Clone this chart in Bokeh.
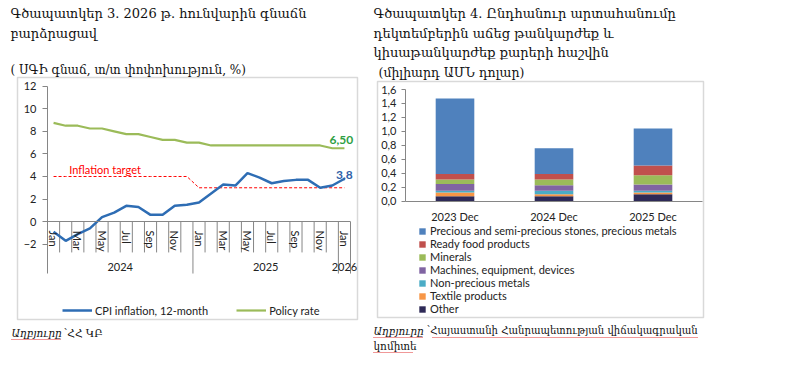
from bokeh.plotting import figure
from bokeh.models import (Range1d, FixedTicker, Label, Legend, LegendItem, LinearAxis,
                          ColumnDataSource, CustomJSTickFormatter)
from bokeh.embed import file_html
from bokeh.resources import INLINE
from bokeh.core.properties import value

# ---------------- data: chart 3 ----------------
month_labels = ["Jan", "Feb", "Mar", "Apr", "May", "Jun", "Jul", "Aug", "Sep", "Oct", "Nov", "Dec",
                "Jan", "Feb", "Mar", "Apr", "May", "Jun", "Jul", "Aug", "Sep", "Oct", "Nov", "Dec",
                "Jan"]
year_labels = ["2024", "2025", "2026"]
cpi = [-0.9, -1.7, -1.1, -0.6, 0.4, 0.8, 1.4, 1.3, 0.6, 0.6, 1.4, 1.5,
       1.7, 2.5, 3.3, 3.2, 4.3, 3.9, 3.4, 3.6, 3.7, 3.7, 3.0, 3.2, 3.8]
policy = [8.75, 8.5, 8.5, 8.25, 8.25, 8.0, 7.75, 7.75, 7.5, 7.25, 7.25, 7.0,
          7.0, 6.75, 6.75, 6.75, 6.75, 6.75, 6.75, 6.75, 6.75, 6.75, 6.75, 6.5, 6.5]
target = [4, 4, 4, 4, 4, 4, 4, 4, 4, 4, 4, 4,
          3, 3, 3, 3, 3, 3, 3, 3, 3, 3, 3, 3, 3]
y_ticks_left = [-2, 0, 2, 4, 6, 8, 10, 12]

# ---------------- data: chart 4 ----------------
periods = ["2023 Dec", "2024 Dec", "2025 Dec"]
other = [0.07, 0.07, 0.10]
textile = [0.055, 0.03, 0.025]
nonprecious = [0.025, 0.05, 0.025]
machines = [0.095, 0.08, 0.09]
minerals = [0.065, 0.08, 0.13]
readyfood = [0.08, 0.08, 0.14]
precious = [1.08, 0.37, 0.53]
y_ticks_right = [0.0, 0.2, 0.4, 0.6, 0.8, 1.0, 1.2, 1.4, 1.6]

series_keys = ["other", "textile", "nonprecious", "machines", "minerals", "readyfood", "precious"]
series_names = ["Other", "Textile products", "Non-precious metals",
                "Machines, equipment, devices", "Minerals", "Ready food products",
                "Precious and semi-precious stones, precious metals"]
series_colors = ["#2E2A57", "#F79646", "#4BACC6", "#8064A2", "#9BBB59", "#C0504D", "#4F81BD"]

TXT = "Lato"
ARM = "DejaVu Serif"
GRAY = "#868686"
DARK = "#222222"

# ---------------- page figure (frame = whole canvas, page pixel coords) ----------------
W, H = 784, 372
OX, OY = 0, 0  # canvas origin on the page


def span(v0, p0, v1, p1, c0, c1):
    """range values at canvas pixels c0, c1 given value v0 at page px p0 and v1 at p1"""
    s = (v1 - v0) / (p1 - p0)
    return v0 + (c0 + OX - p0) * s, v0 + (c1 + OX - p0) * s


p = figure(width=W, height=H, x_range=Range1d(OX, OX + W), y_range=Range1d(OY + H, OY),
           output_backend="svg", toolbar_location=None, x_axis_location=None,
           y_axis_location=None, min_border=0)
p.outline_line_color = None
p.grid.visible = False
p.background_fill_color = "white"

# chart ranges, placed by pixel anchors
lx0, lx1 = span(-0.5, 47, 24.5, 350, 0, W)
ly0, ly1 = span(12, 85.7, -2, 243.7, H, 0)
rx0, rx1 = span(0, 405, 3, 702, 0, W)
ry0, ry1 = span(1.6, 89, 0, 200.7, H, 0)
p.extra_x_ranges = {"lx": Range1d(lx0, lx1), "rx": Range1d(rx0, rx1)}
p.extra_y_ranges = {"ly": Range1d(ly0, ly1), "ry": Range1d(ry0, ry1)}
L = dict(x_range_name="lx", y_range_name="ly")
R = dict(x_range_name="rx", y_range_name="ry")

# ---------------- boxes & texts ----------------
p.quad(left=[17, 377], right=[357, 703], top=[77, 81], bottom=[319, 317],
       fill_alpha=0, line_color="#D9D9D9", line_width=1.5)


def t(x, y, s, size="13px", style="normal", font=ARM, color="#111111", align="left"):
    p.text(x=[x], y=[y], text=[s], text_font=value(font), text_font_size=size,
           text_font_style=style, text_color=color, text_align=align, text_baseline="middle")


t(10, 13, "Գծապատկեր 3. 2026 թ. հունվարին գնաճն")
t(10, 33, "բարձրացավ")
t(10, 69, "( ՍԳԻ գնաճ, տ/տ փոփոխություն,  %)", size="12px")
t(11, 332, "Աղբյուրը", size="10.5px", style="italic")
t(63, 332, "՝ՀՀ ԿԲ", size="10.5px")
t(373, 13, "Գծապատկեր 4. Ընդհանուր արտահանումը")
t(373, 33, "դեկտեմբերին աճեց թանկարժեք և")
t(373, 52, "կիսաթանկարժեք քարերի հաշվին")
t(378, 72, "(միլիարդ ԱՄՆ դոլար)", size="12.5px")
t(373, 330, "Աղբյուրը", size="10.5px", style="italic")
t(426, 330, "՝Հայաստանի Հանրապետության վիճակագրական", size="10.1px")
t(373, 345, "կոմիտե", size="10.5px")
# spell-check squiggles under the source lines
p.segment(x0=[11, 373, 432, 373], y0=[339, 337, 337, 352],
          x1=[60, 423, 698, 412], y1=[339, 337, 337, 352],
          line_color="#E03030", line_width=1, line_dash="1 1")

# ---------------- chart 3 ----------------
xs = list(range(len(month_labels)))
lab_x = xs[::2]
ly_axis = LinearAxis(fixed_location=-0.5, bounds=(-4.6, 12), **L)
ly_axis.ticker = FixedTicker(ticks=y_ticks_left)
ly_axis.axis_line_color = GRAY
ly_axis.major_tick_line_color = GRAY
ly_axis.major_tick_out = 5
ly_axis.major_tick_in = 0
ly_axis.minor_tick_line_color = None
ly_axis.major_label_standoff = 6
ly_axis.major_label_text_font = TXT
ly_axis.major_label_text_font_size = "11px"
ly_axis.major_label_text_color = DARK
p.add_layout(ly_axis, "left")

lx_axis = LinearAxis(fixed_location=0, bounds=(-0.5, 24.5), **L)
lx_axis.ticker = FixedTicker(ticks=lab_x)
lx_axis.major_label_overrides = {i: month_labels[i] for i in lab_x}
lx_axis.major_label_orientation = "vertical"
lx_axis.axis_line_color = GRAY
lx_axis.major_tick_line_color = None
lx_axis.minor_tick_line_color = None
lx_axis.major_label_standoff = 3
lx_axis.major_label_text_font = TXT
lx_axis.major_label_text_font_size = "11px"
lx_axis.major_label_text_color = DARK
p.add_layout(lx_axis, "below")

minor_sep = [i - 0.5 for i in xs[1:] if i not in (12, 24)]
p.segment(x0=minor_sep, y0=[0] * len(minor_sep), x1=minor_sep, y1=[-2.73] * len(minor_sep),
          line_color=GRAY, line_width=1, **L)
year_sep = [11.5, 23.5, 24.5]
p.segment(x0=year_sep, y0=[0] * 3, x1=year_sep, y1=[-4.6] * 3, line_color=GRAY,
          line_width=1, **L)
p.text(x=[5.5, 17.5, 24], y=[-4.06] * 3, text=year_labels, text_align="center",
       text_baseline="middle", text_font=value(TXT), text_font_size="11px",
       text_color=DARK, **L)

r_t = p.line(xs, target, line_color="#FF0000", line_width=1, line_dash="3 2", **L)
r_pol = p.line(xs, policy, line_color="#9BBB59", line_width=2.2, **L)
r_cpi = p.line(xs, cpi, line_color="#2E6DB4", line_width=2.5, **L)

p.add_layout(Label(x=1.3, y=4.63, text="Inflation target", text_baseline="middle",
                   text_font=TXT, text_font_size="11px", text_color="#FF0000", **L))
p.add_layout(Label(x=24, y=policy[-1], x_offset=-3, y_offset=8, text="6,50",
                   text_align="center", text_baseline="middle", text_font=TXT,
                   text_font_size="12px", text_font_style="bold", text_color="#2EA043", **L))
p.add_layout(Label(x=24, y=cpi[-1], x_offset=0, y_offset=4, text="3,8",
                   text_align="center", text_baseline="middle", text_font=TXT,
                   text_font_size="12px", text_font_style="bold", text_color="#2F5FA8", **L))

leg1 = Legend(items=[LegendItem(label="CPI inflation, 12-month", renderers=[r_cpi]),
                     LegendItem(label="Policy rate", renderers=[r_pol])],
              orientation="horizontal", location=(62 - OX, H - (317 - OY)),
              padding=0, margin=0, spacing=28, glyph_width=30, glyph_height=14,
              label_height=14, label_standoff=3, border_line_color=None,
              background_fill_alpha=0, label_text_font=TXT, label_text_font_size="11px",
              label_text_color=DARK)
p.add_layout(leg1, "center")

# ---------------- chart 4 ----------------
bar_x = [i + 0.5 for i in range(len(periods))]
src = ColumnDataSource(dict(x=bar_x, other=other, textile=textile, nonprecious=nonprecious,
                            machines=machines, minerals=minerals, readyfood=readyfood,
                            precious=precious))
rs = p.vbar_stack(series_keys, x="x", width=0.39, color=series_colors, source=src,
                  line_color=None, **R)

ry_axis = LinearAxis(fixed_location=0, bounds=(0, 1.6), **R)
ry_axis.ticker = FixedTicker(ticks=y_ticks_right)
ry_axis.formatter = CustomJSTickFormatter(code="return tick.toFixed(1).replace('.', ',');")
ry_axis.axis_line_color = GRAY
ry_axis.major_tick_line_color = GRAY
ry_axis.major_tick_out = 4
ry_axis.major_tick_in = 0
ry_axis.minor_tick_line_color = None
ry_axis.major_label_standoff = 5
ry_axis.major_label_text_font = TXT
ry_axis.major_label_text_font_size = "11px"
ry_axis.major_label_text_color = DARK
p.add_layout(ry_axis, "left")

rx_axis = LinearAxis(fixed_location=0, bounds=(0, 3), **R)
rx_axis.ticker = FixedTicker(ticks=bar_x)
rx_axis.major_label_overrides = {bar_x[i]: periods[i] for i in range(len(periods))}
rx_axis.axis_line_color = GRAY
rx_axis.major_tick_line_color = None
rx_axis.minor_tick_line_color = None
rx_axis.major_label_standoff = 3
rx_axis.major_label_text_font = TXT
rx_axis.major_label_text_font_size = "11px"
rx_axis.major_label_text_color = DARK
p.add_layout(rx_axis, "below")

leg2 = Legend(items=[LegendItem(label=series_names[i], renderers=[rs[i]]) for i in range(6, -1, -1)],
              location=(418 - OX, H - (315 - OY)), padding=0, margin=0, spacing=0,
              glyph_width=8, glyph_height=8, label_height=13, label_standoff=4,
              border_line_color=None, background_fill_alpha=0, label_text_font=TXT,
              label_text_font_size="11px", label_text_color=DARK)
p.add_layout(leg2, "center")

open("out.html", "w").write(file_html(p, INLINE))
